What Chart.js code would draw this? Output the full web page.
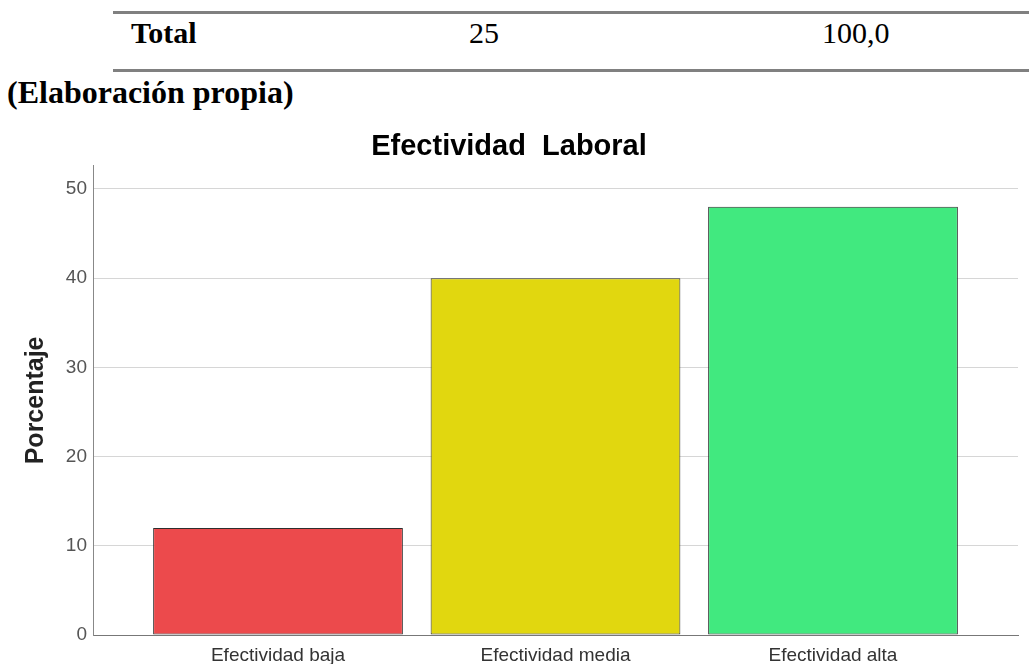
<!DOCTYPE html>
<html>
<head>
<meta charset="utf-8">
<script src="https://cdn.jsdelivr.net/npm/chart.js@4"></script>
<style>
    body { margin: 0; background: #fff; width: 1029px; height: 664px; position: relative; overflow: hidden; font-family: "Liberation Serif", "Times New Roman", serif; color: #000; }
    .rule { position: absolute; left: 113px; right: 0; height: 3px; background: #808080; }
    .cell { position: absolute; font-size: 30px; line-height: 30px; white-space: nowrap; }
    .bold { font-weight: bold; }
    #chartBox { position: absolute; left: 0; top: 120px; width: 1029px; height: 544px; }
</style>
</head>
<body>
<div class="rule" style="top:11px"></div>
<div class="cell bold" style="left:131px;top:18px">Total</div>
<div class="cell" style="left:469px;top:18px">25</div>
<div class="cell" style="left:822px;top:18px">100,0</div>
<div class="rule" style="top:69px"></div>
<div class="cell bold" style="left:7px;top:76px;font-size:32px;line-height:32px">(Elaboración propia)</div>

<div id="chartBox"><canvas id="chart"></canvas></div>

<script>
const categories = ['Efectividad baja', 'Efectividad media', 'Efectividad alta'];
const percentages = [12, 40, 48];
const barColors = ['#EC4A4C', '#E1D70F', '#41E97F'];
const yMax = 52.6;
const yStep = 10;

const SANS = 'Arial, "Liberation Sans", sans-serif';

// posiciones de categoría (1..n) sobre un eje lineal, para dejar hueco a ambos lados
const positions = categories.map(function(c, i) { return i + 1; });
const points = positions.map(function(x, i) {
    return { x: x, y: percentages[i] };
});

new Chart(document.getElementById('chart'), {
    type: 'bar',
    data: {
        datasets: [{
            data: points,
            backgroundColor: barColors,
            borderColor: '#2e2e2e',
            borderWidth: 1,
            borderSkipped: false,
            categoryPercentage: 1,
            barPercentage: 0.9
        }]
    },
    options: {
        responsive: true,
        maintainAspectRatio: false,
        animation: false,
        layout: { padding: { left: 0, right: 11, top: 0, bottom: 0 } },
        plugins: {
            legend: { display: false },
            tooltip: { enabled: false },
            title: {
                display: true,
                text: 'Efectividad  Laboral',
                color: '#000',
                font: { family: SANS, size: 29, weight: 'bold' },
                padding: { top: 10, bottom: 1 }
            }
        },
        scales: {
            x: {
                type: 'linear',
                offset: false,
                min: 1 / 3,
                max: positions.length + 2 / 3,
                grid: { display: false, offset: false },
                border: { color: '#777', width: 1 },
                afterBuildTicks: function(scale) {
                    scale.ticks = positions.map(function(p) { return { value: p }; });
                },
                afterFit: function(scale) { scale.height = 29; },
                ticks: {
                    autoSkip: false,
                    maxRotation: 0,
                    padding: 1,
                    color: '#333',
                    font: { family: SANS, size: 19 },
                    callback: function(value) { return categories[value - 1]; }
                }
            },
            y: {
                min: 0,
                max: yMax,
                afterFit: function(scale) { scale.width = 93; },
                grid: { color: '#d6d6d6', drawTicks: false },
                border: { color: '#888', width: 1 },
                ticks: {
                    stepSize: yStep,
                    includeBounds: false,
                    padding: 6,
                    color: '#555',
                    font: { family: SANS, size: 19 }
                },
                title: {
                    display: true,
                    text: 'Porcentaje',
                    color: '#222',
                    font: { family: SANS, size: 25, weight: 'bold' },
                    padding: { top: 21, bottom: 0 }
                }
            }
        }
    }
});
</script>
</body>
</html>
